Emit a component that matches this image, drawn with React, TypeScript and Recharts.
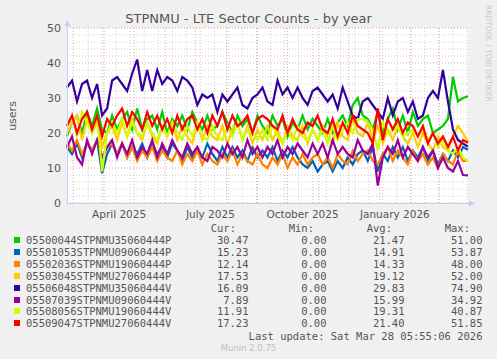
import { LineChart, Line, XAxis, YAxis, ReferenceLine, ReferenceArea } from "recharts"

// one value every 5 days, day 0 = Feb 23 2025, day 400 = Mar 29 2026
const STEP_DAYS = 5

const green = [
  19, 23, 25, 20, 26, 22, 27, 21, 20, 25,
  21, 24, 26, 21, 27, 21, 24, 25, 21, 26,
  20, 24, 22, 25, 21, 26, 23, 21, 25, 21,
  22, 26, 23, 20, 25, 22, 24, 20, 25, 22,
  20, 25, 22, 24, 19, 23, 21, 25, 21, 24,
  22, 20, 24, 20, 23, 25, 22, 28, 30, 25,
  24, 21, 26, 20, 24, 27, 21, 25, 20, 26,
  22, 24, 25, 20, 21, 22, 24, 36, 29, 30,
  30.5
]
const blue = [
  16, 14, 17, 13, 17, 15, 18, 8.5, 14, 17,
  14, 17, 13, 16, 14, 17, 13, 17, 14, 16,
  13, 17, 15, 12, 16, 13, 15, 13, 17, 14,
  12, 16, 13, 16, 13, 15, 12, 16, 13, 15,
  13, 16, 12, 15, 13, 16, 13, 11, 10, 12,
  9, 11, 12, 9, 12, 10, 13, 11, 14, 15,
  12, 16, 9, 14, 12, 16, 13, 16, 12, 15,
  13, 16, 12, 15, 11, 14, 12, 15, 13, 16,
  15.2
]
const orange = [
  17, 15, 18, 14, 17, 15, 18, 13, 16, 17,
  14, 17, 13, 16, 12, 15, 13, 16, 12, 15,
  13, 12, 15, 11, 14, 12, 15, 11, 14, 12,
  11, 14, 12, 15, 11, 14, 12, 11, 14, 11,
  10, 13, 11, 14, 10, 13, 11, 14, 11, 13,
  14, 11, 13, 10, 14, 12, 11, 15, 12, 14,
  15, 12, 11, 14, 16, 12, 15, 13, 11, 15,
  12, 14, 11, 13, 10, 14, 12, 11, 15, 12,
  12.1
]
const yellow = [
  20, 23, 25, 18, 24, 20, 23, 16, 20, 22,
  18, 23, 19, 24, 20, 18, 23, 19, 17, 22,
  19, 23, 18, 22, 19, 17, 23, 18, 22, 19,
  18, 22, 17, 21, 23, 18, 22, 17, 21, 18,
  22, 18, 21, 17, 22, 19, 18, 22, 17, 21,
  18, 22, 19, 17, 23, 19, 18, 24, 20, 19,
  23, 18, 22, 17, 21, 18, 22, 19, 17, 20,
  16, 20, 17, 15, 19, 16, 15, 19, 22, 20,
  17.5
]
const indigo = [
  33, 35, 29, 34, 35, 30, 34, 25, 27, 35,
  36, 34, 32, 37, 41, 32, 38, 32, 38, 34,
  36, 35, 32, 36, 35, 33, 28, 31, 30, 31,
  26, 31, 29, 31, 33, 28, 27, 30, 31, 33,
  29, 28, 35, 31, 33, 30, 33, 30, 28, 32,
  33, 31, 29, 31, 27, 33, 29, 25, 24, 29,
  30, 28, 26, 24, 30, 25, 29, 30, 26, 29,
  24, 25, 30, 32, 30, 38, 29, 21, 18, 17,
  16.1
]
const purple = [
  16, 19, 13, 11, 18, 14, 18, 13, 16, 18,
  13, 17, 14, 18, 13, 16, 14, 18, 13, 17,
  14, 18, 15, 13, 17, 14, 16, 13, 12, 16,
  15, 13, 17, 14, 16, 13, 18, 14, 16, 13,
  16, 14, 18, 13, 16, 14, 17, 15, 13, 17,
  14, 17, 13, 18, 14, 16, 14, 13, 18, 15,
  14, 17, 5, 13, 16, 14, 18, 13, 16, 14,
  12, 16, 13, 15, 10, 13, 10, 9, 12, 8,
  7.9
]
const lime = [
  22, 25, 19, 26, 23, 20, 25, 9, 20, 23,
  20, 24, 19, 23, 20, 19, 23, 20, 18, 22,
  19, 23, 20, 18, 22, 19, 23, 19, 18, 22,
  19, 18, 22, 19, 23, 18, 21, 20, 18, 21,
  18, 22, 19, 17, 21, 18, 22, 19, 18, 21,
  18, 21, 17, 22, 18, 21, 23, 20, 24, 24,
  23, 21, 15, 23, 20, 21, 22, 19, 20, 21,
  19, 22, 18, 20, 16, 18, 15, 14, 16, 13,
  11.9
]
const red = [
  22, 25, 20, 24, 26, 21, 25, 19, 24, 22,
  25, 27, 22, 26, 24, 21, 26, 22, 25, 21,
  24, 20, 25, 21, 24, 25, 21, 24, 20, 25,
  22, 26, 21, 25, 22, 23, 25, 20, 24, 25,
  24, 22, 21, 25, 20, 24, 21, 20, 23, 22,
  25, 21, 20, 24, 19, 23, 20, 25, 22, 21,
  20, 17, 27, 18, 24, 21, 24, 20, 23, 22,
  19, 22, 17, 20, 17, 19, 16, 19, 15, 18,
  17.2
]

const seriesValues = [green, blue, orange, yellow, indigo, purple, lime, red]
const seriesKeys = ["s0", "s1", "s2", "s3", "s4", "s5", "s6", "s7"]
const seriesNames = [
  "05500044STPNMU35060444P",
  "05501053STPNMU09060444P",
  "05502036STPNMU19060444P",
  "05503045STPNMU27060444P",
  "05506048STPNMU35060444V",
  "05507039STPNMU09060444V",
  "05508056STPNMU19060444V",
  "05509047STPNMU27060444V"
]
const seriesColors = ["#00CC00", "#0066B3", "#FF8000", "#FFCC00", "#330099", "#990099", "#CCFF00", "#FF0000"]
const curVals = ["30.47", "15.23", "12.14", "17.53", "16.09", "7.89", "11.91", "17.23"]
const minVals = ["0.00", "0.00", "0.00", "0.00", "0.00", "0.00", "0.00", "0.00"]
const avgVals = ["21.47", "14.91", "14.33", "19.12", "29.83", "15.99", "19.31", "21.40"]
const maxVals = ["51.00", "53.87", "48.00", "52.00", "74.90", "34.92", "40.87", "51.85"]

const monthStartDays = [6, 37, 67, 98, 128, 159, 190, 220, 251, 281, 312, 343, 371]
const minorGridDays = [21, 35, 49, 63, 77, 91, 105, 119, 133, 147, 161, 175, 189, 203, 217, 231, 245, 259, 273, 287, 301, 315, 329, 343, 357, 371, 385, 399]
const xTickDays = [52, 143, 235, 327]
const xTickLabels = ["April 2025", "July 2025", "October 2025", "January 2026"]
const yTicks = [0, 10, 20, 30, 40, 50]
const yMinor = [2, 4, 6, 8, 12, 14, 16, 18, 22, 24, 26, 28, 32, 34, 36, 38, 42, 44, 46, 48]

const data = green.map((_, i) => {
  const row: any = { day: i * STEP_DAYS }
  seriesValues.forEach((vals, k) => { row[seriesKeys[k]] = vals[i] })
  return row
})

const TEXT = "#555555"
const SANS = "'DejaVu Sans', sans-serif"
const MONO = "'DejaVu Sans Mono', monospace"
const AXIS = "#c8ccf4"

const XTick = ({ x, y, payload }: any) => {
  const i = xTickDays.indexOf(payload.value)
  return (
    <text x={x} y={y + 9} textAnchor="middle" dominantBaseline="central" fontSize={10.5} fontFamily={SANS} fill={TEXT}>
      {xTickLabels[i]}
    </text>
  )
}

const YTick = ({ x, y, payload }: any) => (
  <text x={x} y={y} textAnchor="end" dominantBaseline="central" fontSize={11} fontFamily={SANS} fill={TEXT}>
    {payload.value}
  </text>
)

const rowTop = (i: number) => 240 + i * 11.9 - 6

export default function App() {
  return (
    <div style={{ position: "fixed", left: 0, top: 0, width: 497, height: 359, background: "#f0f0f0", overflow: "hidden" }}>
      <LineChart width={497} height={359} data={data} margin={{ top: 28, right: 29, bottom: 136, left: 0 }}>
        <XAxis dataKey="day" type="number" domain={[0, 400]} ticks={xTickDays} tick={<XTick />} tickLine={false} axisLine={false} tickSize={0} height={20} interval={0} />
        <YAxis type="number" domain={[0, 50]} ticks={yTicks} tick={<YTick />} tickLine={false} axisLine={false} tickSize={0} tickMargin={6} width={67} />
        <ReferenceArea x1={0} x2={400} y1={0} y2={50} fill="#ffffff" fillOpacity={1} stroke="none" />
        {yMinor.map(v => (
          <ReferenceLine key={`ym${v}`} y={v} stroke="#cfcfcf" strokeDasharray="1 2" />
        ))}
        {minorGridDays.map(d => (
          <ReferenceLine key={`xm${d}`} x={d} stroke="#cfcfcf" strokeDasharray="1 2" />
        ))}
        {yTicks.map(v => (
          <ReferenceLine key={`yM${v}`} y={v} stroke="#eba0a0" strokeDasharray="1 2" />
        ))}
        {monthStartDays.map(d => (
          <ReferenceLine key={`xM${d}`} x={d} stroke="#eba0a0" strokeDasharray="1 2" />
        ))}
        {seriesKeys.map((k, i) => (
          <Line key={k} dataKey={k} type="linear" stroke={seriesColors[i]} strokeWidth={2.2} dot={false} isAnimationActive={false} />
        ))}
      </LineChart>

      <svg width={497} height={359} style={{ position: "absolute", left: 0, top: 0, pointerEvents: "none" }}>
        <line x1={67.5} y1={203.5} x2={67.5} y2={24} stroke={AXIS} strokeWidth={1} />
        <line x1={67} y1={203.5} x2={471} y2={203.5} stroke={AXIS} strokeWidth={1} />
        <polygon points="64.5,26 70.5,26 67.5,20" fill={AXIS} />
        <polygon points="469,200.5 469,206.5 475,203.5" fill={AXIS} />
      </svg>

      <div style={{ position: "absolute", left: 0, width: 497, top: 11, textAlign: "center", fontFamily: SANS, fontSize: 13, color: TEXT }}>
        STPNMU - LTE Sector Counts - by year
      </div>
      <div style={{ position: "absolute", left: 12, top: 115.5, transform: "translate(-50%, -50%) rotate(-90deg)", fontFamily: SANS, fontSize: 11, color: TEXT }}>
        users
      </div>
      <div style={{ position: "absolute", left: 484, top: 5, writingMode: "vertical-rl", fontFamily: SANS, fontSize: 7.5, color: "#c8c8c8", whiteSpace: "nowrap" }}>
        RRDTOOL / TOBI OETIKER
      </div>

      <div style={{ fontFamily: MONO, fontSize: 10.5, color: TEXT, lineHeight: "12px" }}>
        {["Cur:", "Min:", "Avg:", "Max:"].map((h, j) => (
          <span key={h} style={{ position: "absolute", top: 222, right: 497 - [236, 314, 392, 470][j], whiteSpace: "pre" }}>{h}</span>
        ))}
        {seriesNames.map((name, i) => (
          <div key={name}>
            <div style={{ position: "absolute", left: 14, top: rowTop(i) + 3, width: 6, height: 6, background: seriesColors[i] }} />
            <span style={{ position: "absolute", left: 26, top: rowTop(i), whiteSpace: "pre" }}>{name}</span>
            {[curVals[i], minVals[i], avgVals[i], maxVals[i]].map((v, j) => (
              <span key={j} style={{ position: "absolute", top: rowTop(i), right: 497 - [248.5, 326.5, 404.5, 482.5][j], whiteSpace: "pre" }}>{v}</span>
            ))}
          </div>
        ))}
        <span style={{ position: "absolute", top: 329.5, right: 497 - 482.5, whiteSpace: "pre" }}>Last update: Sat Mar 28 05:55:06 2026</span>
      </div>
      <div style={{ position: "absolute", left: 0, width: 497, top: 343, textAlign: "center", fontFamily: SANS, fontSize: 8.5, color: "#c0c0c0" }}>
        Munin 2.0.75
      </div>
    </div>
  )
}
